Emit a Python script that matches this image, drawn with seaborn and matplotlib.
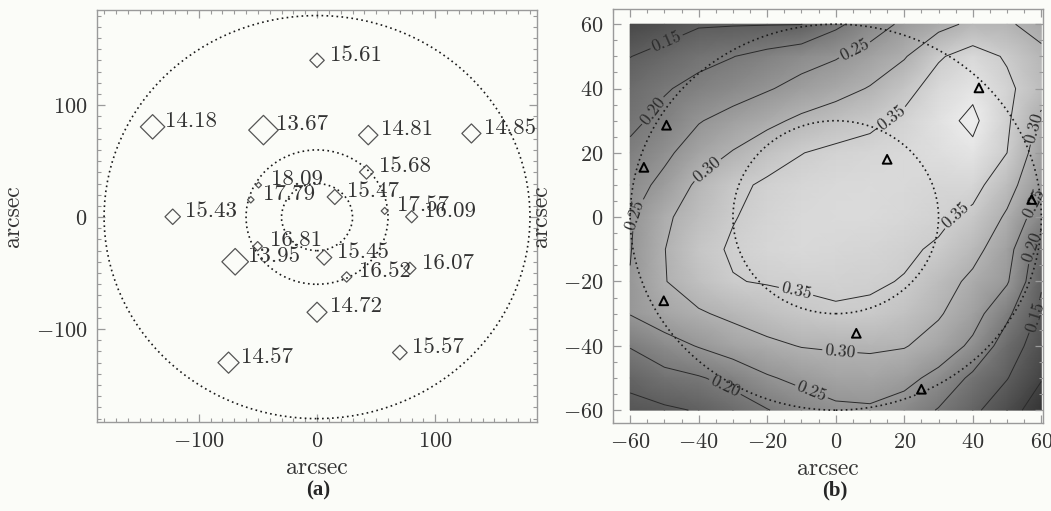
import matplotlib.pyplot as plt
import numpy as np
import pandas as pd
import seaborn as sns
from matplotlib.patches import Circle
from matplotlib.ticker import MultipleLocator

# ---- panel (a): stars, offsets in arcsec, labelled with magnitude ----
star_x = [0.0, -139.0, -45.3, 43.3, 130.5, -49.4, -56.0, 15.0, 41.8, 57.2,
          80.0, -122.0, -50.2, -69.2, 6.0, 25.0, 78.5, 0.0, -74.8, 70.0]
star_y = [140.0, 80.6, 77.7, 73.2, 74.7, 28.6, 15.5, 18.0, 40.2, 5.5,
          0.3, 0.3, -26.0, -39.9, -36.1, -53.5, -45.8, -85.0, -130.0, -121.0]
star_mag = [15.61, 14.18, 13.67, 14.81, 14.85, 18.09, 17.79, 15.47, 15.68, 17.57,
            16.09, 15.43, 16.81, 13.95, 15.45, 16.52, 16.07, 14.72, 14.57, 15.57]

rings_a = [30, 60, 180]
rings_b = [30, 60]

# ---- panel (b): map sampled on a 10 arcsec grid ----
grid_x = [-60, -50, -40, -30, -20, -10, 0, 10, 20, 30, 40, 50, 60]
grid_y = [60, 50, 40, 30, 20, 10, 0, -10, -20, -30, -40, -50, -60]
field = [
    [0.110, 0.125, 0.145, 0.147, 0.148, 0.149, 0.190, 0.225, 0.260, 0.285, 0.310, 0.305, 0.285],
    [0.149, 0.168, 0.187, 0.199, 0.215, 0.232, 0.246, 0.270, 0.296, 0.345, 0.370, 0.345, 0.310],
    [0.175, 0.196, 0.213, 0.228, 0.246, 0.265, 0.283, 0.303, 0.335, 0.370, 0.390, 0.360, 0.320],
    [0.190, 0.213, 0.247, 0.268, 0.288, 0.310, 0.325, 0.340, 0.360, 0.385, 0.410, 0.357, 0.290],
    [0.210, 0.240, 0.275, 0.303, 0.330, 0.349, 0.360, 0.365, 0.370, 0.380, 0.390, 0.350, 0.270],
    [0.230, 0.263, 0.310, 0.340, 0.357, 0.365, 0.370, 0.372, 0.370, 0.365, 0.365, 0.320, 0.255],
    [0.245, 0.292, 0.323, 0.348, 0.362, 0.370, 0.372, 0.372, 0.368, 0.358, 0.340, 0.293, 0.220],
    [0.248, 0.299, 0.336, 0.355, 0.365, 0.370, 0.368, 0.363, 0.356, 0.345, 0.315, 0.270, 0.170],
    [0.252, 0.298, 0.325, 0.348, 0.353, 0.356, 0.358, 0.355, 0.348, 0.320, 0.290, 0.255, 0.155],
    [0.252, 0.278, 0.295, 0.310, 0.325, 0.338, 0.345, 0.343, 0.330, 0.305, 0.270, 0.210, 0.140],
    [0.203, 0.230, 0.253, 0.275, 0.290, 0.302, 0.305, 0.307, 0.303, 0.280, 0.240, 0.175, 0.125],
    [0.163, 0.185, 0.196, 0.215, 0.245, 0.262, 0.275, 0.278, 0.265, 0.235, 0.190, 0.152, 0.103],
    [0.135, 0.143, 0.153, 0.175, 0.198, 0.222, 0.240, 0.243, 0.228, 0.197, 0.160, 0.120, 0.075],
]
plain_levels = [0.10, 0.40]
labelled_levels = [0.15, 0.20, 0.25, 0.30, 0.35]
# where the contour labels sit (arcsec), as in the original figure
label_spots = [(-50, 56), (58.5, -31),
               (-54.5, 34), (-32, -52), (56.6, -9),
               (-57, 0), (5, 53), (-7, -54), (56.5, 5),
               (-37.5, 14.7), (1, -44.5), (57, 28),
               (17, 30), (-12, -25), (35.5, 0)]

BG = "#fbfcf8"
FRAME = "#9a9a9a"
INK = "#333333"

sns.set_style("ticks")
plt.rcParams["font.family"] = ["cmr10", "DejaVu Serif"]
plt.rcParams["mathtext.fontset"] = "cm"
plt.rcParams["axes.formatter.use_mathtext"] = True


def style_axes(ax, major, minor):
    ax.set_facecolor(BG)
    for axis in (ax.xaxis, ax.yaxis):
        axis.set_major_locator(MultipleLocator(major))
        axis.set_minor_locator(MultipleLocator(minor))
    ax.tick_params(which="both", direction="in", top=True, right=True,
                   color=FRAME, labelcolor=INK, labelsize=16, pad=7)
    ax.tick_params(which="major", length=6, width=0.9)
    ax.tick_params(which="minor", length=3, width=0.8)
    for s in ax.spines.values():
        s.set_color(FRAME)
        s.set_linewidth(1.0)
    ax.set_xlabel("arcsec", fontsize=17, color=INK, labelpad=4)
    ax.set_ylabel("arcsec", fontsize=17, color=INK, labelpad=8)


def add_rings(ax, radii):
    for r in radii:
        ax.add_patch(Circle((0, 0), r, fill=False, ls=(0, (1, 2)), lw=1.2,
                            ec="#1a1a1a", zorder=3))


stars = pd.DataFrame({"x": star_x, "y": star_y, "mag": star_mag})
# marker area shrinks with magnitude (brighter star -> bigger diamond)
size_map = {m: 225 * 10 ** (-0.32 * (m - min(star_mag))) for m in star_mag}

fig = plt.figure(figsize=(10.51, 5.11), dpi=100, facecolor=BG)
ax1 = fig.add_axes([0.0923, 0.1742, 0.4187, 0.8063])
ax2 = fig.add_axes([0.5833, 0.1722, 0.4091, 0.8100])

# (a) star field
sns.scatterplot(data=stars, x="x", y="y", size="mag", sizes=size_map,
                marker="D", facecolor="none", edgecolor="#555555",
                linewidth=0.9, legend=False, ax=ax1, zorder=4)
for x, y, m in zip(stars["x"], stars["y"], stars["mag"]):
    ax1.annotate(f"{m:.2f}", (x, y), xytext=(9, 4), textcoords="offset points",
                 ha="left", va="center", fontsize=16.5, color=INK, zorder=5)
add_rings(ax1, rings_a)
ax1.set_xlim(-186, 186)
ax1.set_ylim(-183, 185)
style_axes(ax1, 100, 10)

# (b) map with contours
z = np.array(field)
ax2.pcolormesh(grid_x, grid_y, z, shading="gouraud",
               cmap="gray", vmin=-0.02, vmax=0.44, zorder=0)
ax2.contour(grid_x, grid_y, z, levels=plain_levels,
            colors="#2a2a2a", linewidths=0.7, zorder=2)
cs = ax2.contour(grid_x, grid_y, z, levels=labelled_levels,
                 colors="#2a2a2a", linewidths=0.7, zorder=2)
ax2.clabel(cs, fmt="%.2f", fontsize=12.5, inline=True, inline_spacing=3,
           manual=label_spots)
add_rings(ax2, rings_b)
inner = stars[(stars["x"].abs() <= 60) & (stars["y"].abs() <= 60)]
sns.scatterplot(data=inner, x="x", y="y", marker="^", s=40,
                facecolor="none", edgecolor="black", linewidth=1.4,
                legend=False, ax=ax2, zorder=5)
ax2.set_xlim(-65, 60.5)
ax2.set_ylim(-64, 64.7)
style_axes(ax2, 20, 5)

fig.text(0.3026, 0.041, "(a)", ha="center", va="center", fontsize=15,
         fontweight="bold", family="Liberation Serif")
fig.text(0.7945, 0.041, "(b)", ha="center", va="center", fontsize=15,
         fontweight="bold", family="Liberation Serif")

fig.savefig("out.png", dpi=100, facecolor=BG)
